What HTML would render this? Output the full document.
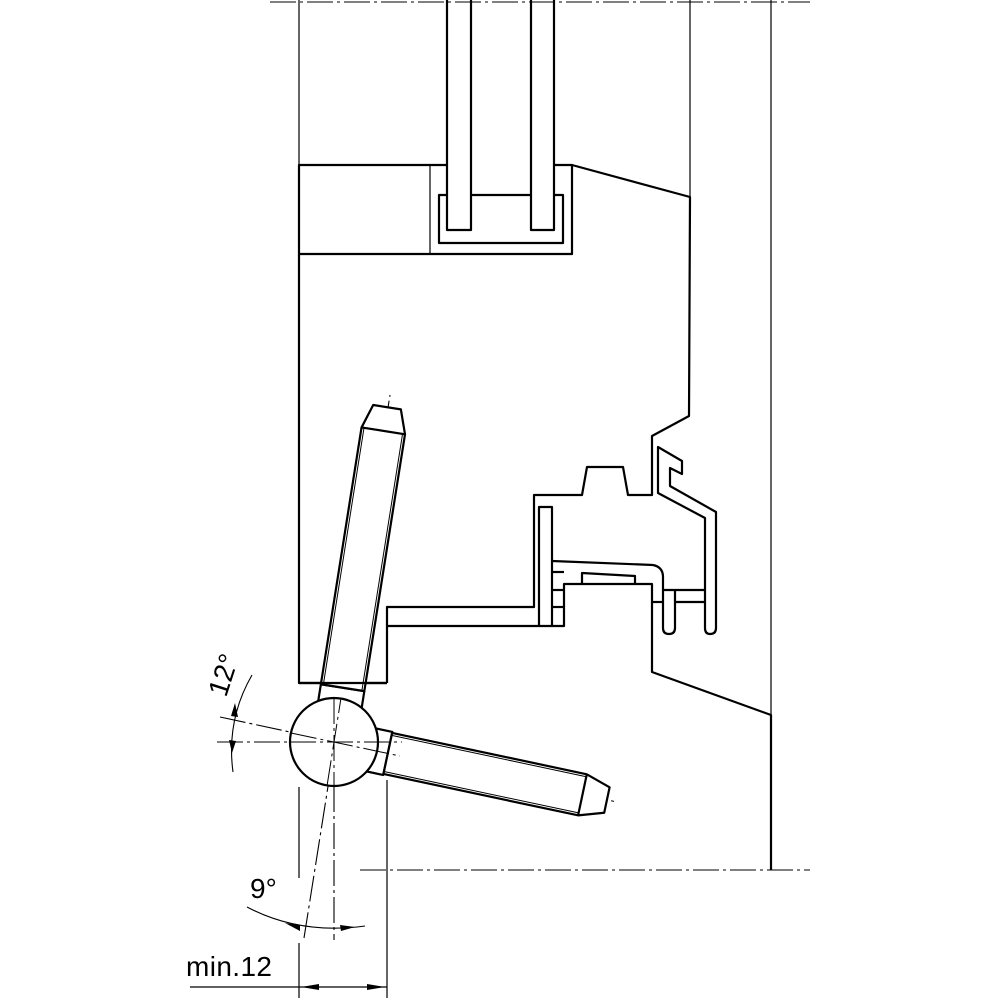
<!DOCTYPE html>
<html><head><meta charset="utf-8"><style>
html,body{margin:0;padding:0;background:#fff}
svg{display:block}
text{font-family:"Liberation Sans",sans-serif;fill:#000}
</style></head><body>
<svg width="1000" height="1000" viewBox="0 0 1000 1000" xmlns="http://www.w3.org/2000/svg">
<g fill="none" stroke="#000" stroke-linejoin="round">
<g stroke-width="1.1" stroke-dasharray="26,4,3,4">
<line x1="270" y1="2" x2="810" y2="2"/>
<line x1="360" y1="870" x2="810" y2="870"/>
<line x1="217" y1="742" x2="402" y2="742"/>
<line x1="334" y1="675" x2="334" y2="940"/>
<line x1="220" y1="717" x2="617" y2="802"/>
<line x1="304" y1="938" x2="390" y2="395"/>
</g>
<g stroke-width="1.2">
<line x1="299" y1="0" x2="299" y2="165"/>
<line x1="690" y1="0" x2="690" y2="197"/>
<line x1="771" y1="0" x2="771" y2="715"/>
<line x1="430" y1="165" x2="430" y2="254"/>
<line x1="299" y1="787" x2="299" y2="878"/>
<line x1="299" y1="943" x2="299" y2="998"/>
<line x1="387" y1="780" x2="387" y2="998"/>
<line x1="190" y1="987" x2="387" y2="987"/>
</g>
<g stroke-width="2.2">
<polyline points="447,0 447,230 471,230 471,0"/>
<polyline points="531,0 531,230 554,230 554,0"/>
<polyline points="447,195 439,195 439,243 563,243 563,195 554,195"/>
<line x1="471" y1="195" x2="531" y2="195"/>
<polyline points="447,165 299,165 299,683 387,683"/>
<polyline points="554,165 572,165 572,254 299,254"/>
<polyline points="572,165 690,197 689,416 652,436 652,495 628,495 623,467 587,467 582,495 534,495 534,607 387,607 387,683"/>
<polyline points="387,626 564,626 564,584 652,584 652,672 771,715 771,870"/>
<polyline points="552,626 552,507 539,507 539,626"/>
<line x1="552" y1="561" x2="653" y2="565"/>
<path d="M653,565 Q663,567 663,577 L663,590 L704,590"/>
<polyline points="552,572 564,572"/>
<polyline points="552,590 564,590"/>
<polyline points="552,607 564,607"/>
<polyline points="582,584 582,573 635,576 635,584"/>
<path d="M658,447 L682,461 L682,474 L670,468 L670,486 L716,512 L716,628 Q716,634 710,634 Q705,634 705,628 L705,518 L658,493 Z"/>
<path d="M663,590 L663,628 Q663,634 669,634 Q675,634 675,628 L675,590"/>
<line x1="652" y1="602" x2="663" y2="602"/>
<line x1="675" y1="602" x2="705" y2="602"/>
</g>
<g transform="translate(334,742) rotate(12)" stroke-width="2.2" fill="#fff">
<polyline points="30,-22 55,-22 55,22 30,22"/>
<path d="M55,-21 L254,-21 L279,-13 L279,13 L254,21 L55,21 Z"/>
<line x1="254" y1="-21" x2="254" y2="21"/>
<line x1="55" y1="-18.5" x2="254" y2="-18.5" stroke-width="1"/>
<line x1="55" y1="18.5" x2="254" y2="18.5" stroke-width="1"/>
</g>
<g transform="translate(334,742) rotate(-81)" stroke-width="2.2" fill="#fff">
<polyline points="30,-22 55,-22 55,22 30,22"/>
<path d="M55,-22 L315,-22 L339,-14 L339,14 L315,22 L55,22 Z"/>
<line x1="315" y1="-22" x2="315" y2="22"/>
<line x1="55" y1="-19.5" x2="315" y2="-19.5" stroke-width="1"/>
<line x1="55" y1="19.5" x2="315" y2="19.5" stroke-width="1"/>
</g>
<line x1="299" y1="683" x2="387" y2="683" stroke-width="2.2"/>
<circle cx="334" cy="742" r="44" stroke-width="2.2" fill="#fff"/>
<g stroke-width="1" stroke-dasharray="26,4,3,4">
<line x1="290" y1="742" x2="402" y2="742"/>
<line x1="334" y1="698" x2="334" y2="786"/>
<line x1="291" y1="733" x2="400" y2="756"/>
<line x1="327" y1="786" x2="341" y2="698"/>
</g>
<g stroke-width="1.1">
<path d="M252,675 Q226,720 233,772"/>
<path d="M247,907 Q300,935 365,926"/>
</g>
</g>
<g fill="#000">
<polygon points="235,703 231,716 238,717"/>
<polygon points="232,753 229,740 236,741"/>
<polygon points="285,923 300,925 300,931"/>
<polygon points="355,927 340,925 341,931"/>
<polygon points="301,987 319,984 319,990"/>
<polygon points="385,987 367,984 367,990"/>
</g>
<text x="0" y="0" font-size="28" transform="translate(226,698) rotate(-72)">12°</text>
<text x="250" y="898" font-size="28">9°</text>
<text x="186" y="976" font-size="28" textLength="86">min.12</text>
</svg>
</body></html>
